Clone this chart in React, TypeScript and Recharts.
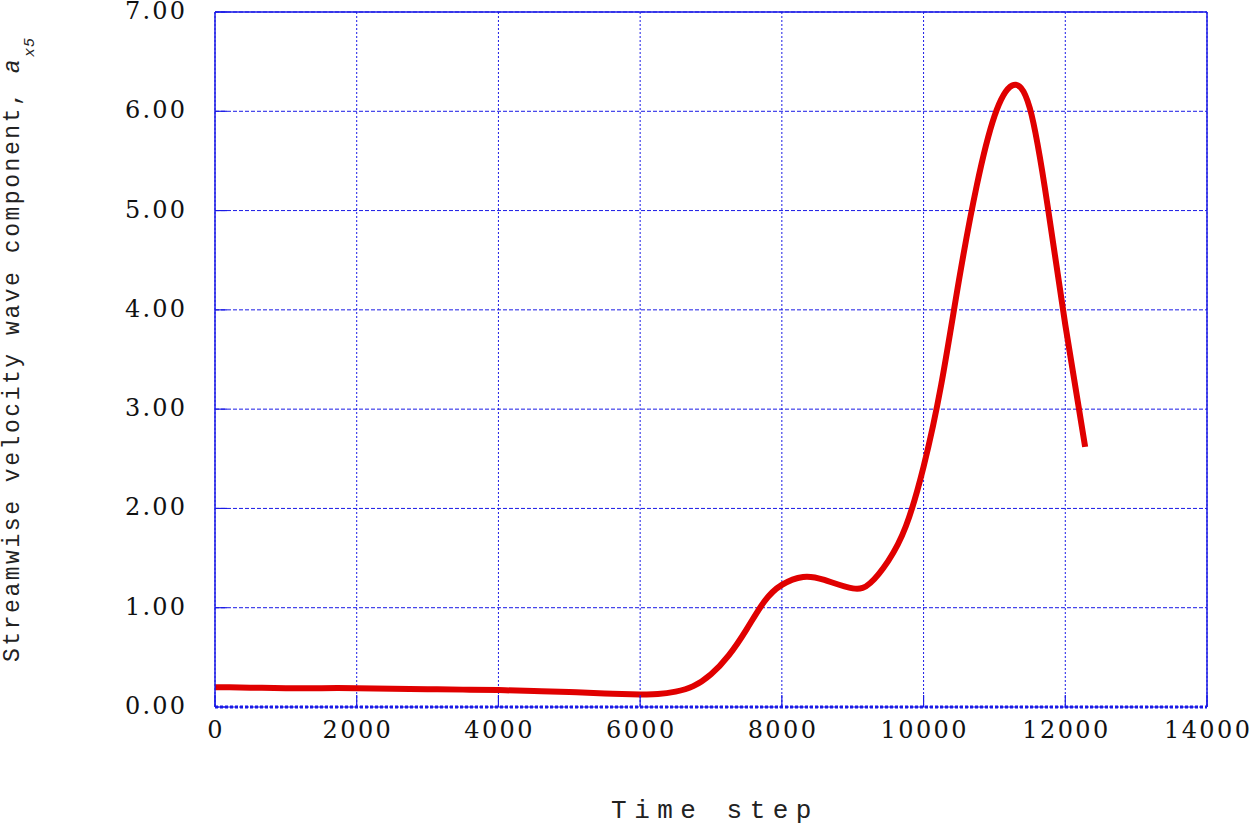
import React from 'react';
import {
  LineChart,
  Line,
  XAxis,
  YAxis,
  CartesianGrid,
  ReferenceLine,
  Label,
} from 'recharts';

// time steps
const steps = [
  0, 500, 1000, 1500, 2000, 2500, 3000, 3500, 4000, 4500, 5000, 5500, 6000,
  6250, 6500, 6750, 7000, 7250, 7500, 7750, 8000, 8300, 8600, 9000,
  9250, 9500, 9750, 10000, 10250, 10500, 10750, 11000, 11250, 11500, 11750,
  12000, 12280,
];

// streamwise velocity wave component a_x5
const amplitude = [
  0.2, 0.195, 0.19, 0.19, 0.19, 0.185, 0.18, 0.175, 0.17, 0.16, 0.15, 0.137,
  0.127, 0.13, 0.155, 0.21, 0.33, 0.52, 0.78, 1.06, 1.23, 1.31, 1.28, 1.195,
  1.25, 1.47, 1.82, 2.42, 3.25, 4.3, 5.25, 5.95, 6.26, 6.03, 5.05, 3.85, 2.62,
];

const xTicks = [0, 2000, 4000, 6000, 8000, 10000, 12000, 14000];
const yTicks = [0, 1, 2, 3, 4, 5, 6, 7];

const data = steps.map((s, i) => ({ step: s, value: amplitude[i] }));

const BLUE = '#1a1ae6';
const tickFont = '"DejaVu Serif", serif';
const titleFont = '"Liberation Mono", monospace';

const XTick = (props: any) => {
  const { x, y, payload } = props;
  return (
    <g>
      <line x1={x} y1={y} x2={x} y2={y - 12} stroke={BLUE} strokeWidth={1.2} />
      <text
        x={x + 1.2}
        y={y + 31}
        textAnchor="middle"
        fontFamily={tickFont}
        fontSize={24}
        letterSpacing={2.4}
        fill="#111"
      >
        {payload.value}
      </text>
    </g>
  );
};

const YTick = (props: any) => {
  const { x, y, payload } = props;
  return (
    <g>
      <line x1={x} y1={y} x2={x + 12} y2={y} stroke={BLUE} strokeWidth={1.2} />
      <text
        x={x - 30 + 2.2}
        y={y + 7}
        textAnchor="end"
        fontFamily={tickFont}
        fontSize={24}
        letterSpacing={2.2}
        fill="#111"
      >
        {Number(payload.value).toFixed(2)}
      </text>
    </g>
  );
};

const XTitle = () => (
  <text
    x={715}
    y={818}
    textAnchor="middle"
    fontFamily={titleFont}
    fontSize={26}
    letterSpacing={7.5}
    fill="#222"
  >
    Time step
  </text>
);

const YTitle = () => (
  <text
    transform="rotate(-90, 19, 662)"
    x={19}
    y={662}
    textAnchor="start"
    fontFamily={titleFont}
    fontSize={23}
    letterSpacing={2.55}
    fill="#222"
  >
    Streamwise velocity wave component,{' '}
    <tspan fontStyle="italic">a</tspan>
    <tspan dy={15} fontSize={15} fontStyle="italic" letterSpacing={1}>
      x5
    </tspan>
  </text>
);

export default function App() {
  return (
    <div style={{ position: 'absolute', left: 0, top: 0, background: '#fff' }}>
      <LineChart
        width={1252}
        height={826}
        data={data}
        margin={{ top: 12, right: 45, bottom: 59, left: 15 }}
      >
        <CartesianGrid
          vertical={false}
          stroke={BLUE}
          strokeDasharray="4 2"
          strokeWidth={1}
        />
        <CartesianGrid
          horizontal={false}
          stroke={BLUE}
          strokeDasharray="2 2"
          strokeWidth={1}
        />
        <XAxis
          dataKey="step"
          type="number"
          domain={[0, 14000]}
          ticks={xTicks}
          height={60}
          tickSize={0}
          tickMargin={0}
          tickLine={false}
          axisLine={{ stroke: BLUE, strokeWidth: 3, strokeDasharray: '3 2' }}
          tick={<XTick />}
          interval={0}
        >
          <Label content={<XTitle />} />
        </XAxis>
        <YAxis
          type="number"
          domain={[0, 7]}
          ticks={yTicks}
          width={200}
          tickSize={0}
          tickMargin={0}
          tickLine={false}
          axisLine={{ stroke: BLUE, strokeWidth: 1.5 }}
          tick={<YTick />}
          interval={0}
        >
          <Label content={<YTitle />} />
        </YAxis>
        <ReferenceLine y={7} stroke={BLUE} strokeWidth={1.5} />
        <ReferenceLine x={14000} stroke={BLUE} strokeWidth={1.5} />
        <Line
          type="natural"
          dataKey="value"
          stroke="#e00000"
          strokeWidth={6}
          dot={false}
          isAnimationActive={false}
        />
      </LineChart>
    </div>
  );
}
